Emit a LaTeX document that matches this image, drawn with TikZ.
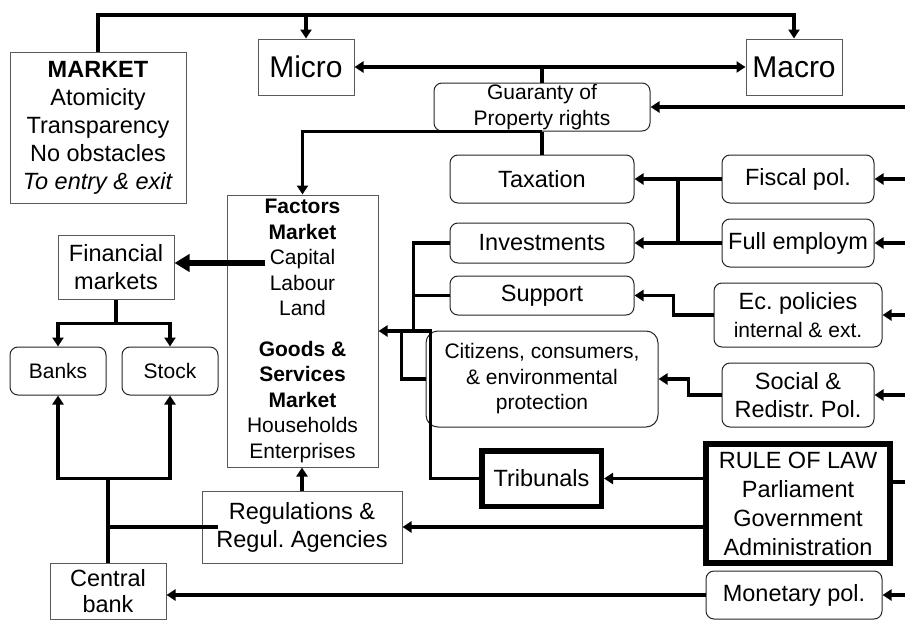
\documentclass[tikz,border=0pt]{standalone}
\usepackage{fontspec}
\setmainfont{Liberation Sans}
\usetikzlibrary{arrows.meta,calc,positioning}
\frenchspacing
\newcommand{\fbig}{\fontsize{30}{34}\selectfont}
\newcommand{\fmid}{\fontsize{23.5}{28}\selectfont}
\newcommand{\fsml}{\fontsize{21}{25.5}\selectfont}

\begin{document}
\begin{tikzpicture}[x=1pt,y=-1pt,
    box/.style={draw=black!65,line width=1pt,fill=white,inner sep=0pt,align=center,font=\fmid},
    rbox/.style={box,draw=black!85,rounded corners=8pt},
    heavy/.style={box,draw=black,line width=5.5pt},
    link/.style={line width=3.5pt},
    arr/.style={link,-{Triangle[length=9pt,width=11pt]}},
    dbl/.style={link,{Triangle[length=9pt,width=11pt]}-{Triangle[length=9pt,width=11pt]}}]
    \useasboundingbox (0,0) rectangle (905,621);

    % Left column
    \node[box,minimum width=176pt,minimum height=151pt,font=\fmid] (market) at (98,127.5)
        {\textbf{MARKET}\\Atomicity\\Transparency\\No obstacles\\\textit{To entry \& exit}};
    \node[box,minimum width=116pt,minimum height=64pt] (financial) at (116,267) {Financial\\markets};
    \node[rbox,minimum width=96pt,minimum height=48pt,font=\fsml] (banks) at (58,371) {Banks};
    \node[rbox,minimum width=96pt,minimum height=48pt,font=\fsml] (stock) at (170,371) {Stock};
    \node[box,minimum width=116pt,minimum height=56pt,font=\fontsize{23.5}{26}\selectfont] (central) at (108,591) {Central\\bank};

    % Middle column
    \node[box,minimum width=96pt,minimum height=56pt,font=\fbig] (micro) at (306,67) {Micro};
    \node[box,minimum width=151pt,minimum height=272pt,font=\fsml] (factors) at (302.5,331)
        {\textbf{Factors}\\\textbf{Market}\\Capital\\Labour\\Land\\[15pt]\textbf{Goods \&}\\\textbf{Services}\\\textbf{Market}\\Households\\Enterprises};
    \node[box,minimum width=200pt,minimum height=72pt] (regul) at (302,527) {Regulations \&\\Regul. Agencies};

    % Instruments
    \node[rbox,minimum width=216pt,minimum height=48pt,font=\fsml] (guar) at (542,107) {Guaranty of\\Property rights};
    \node[rbox,minimum width=184pt,minimum height=48pt] (tax) at (542,179) {Taxation};
    \node[rbox,minimum width=184pt,minimum height=40pt] (invest) at (542,243) {Investments};
    \node[rbox,minimum width=184pt,minimum height=39pt] (support) at (542,295.5) {Support};
    \node[rbox,rounded corners=12pt,minimum width=232pt,minimum height=96pt,font=\fsml] (citizens) at (542,379)
        {Citizens, consumers,\\\& environmental\\protection};
    \node[heavy,minimum width=119.5pt,minimum height=55.5pt] (tribunals) at (541.5,478.5) {Tribunals};

    % Policies
    \node[box,minimum width=96pt,minimum height=56pt,font=\fbig] (macro) at (794,67) {Macro};
    \node[rbox,minimum width=152pt,minimum height=48pt] (fiscal) at (798,179) {Fiscal pol.};
    \node[rbox,minimum width=152pt,minimum height=48pt] (fullemp) at (798,243) {Full employm};
    \node[rbox,minimum width=168pt,minimum height=64pt] (ecpol) at (798,315) {Ec. policies\\{\fsml internal \& ext.}};
    \node[rbox,minimum width=152pt,minimum height=64pt] (social) at (798,395) {Social \&\\Redistr. Pol.};
    \node[heavy,minimum width=184pt,minimum height=119pt,font=\fontsize{23.5}{29}\selectfont] (rule) at (798,503.5)
        {RULE OF LAW\\Parliament\\Government\\Administration};
    \node[rbox,minimum width=176pt,minimum height=48pt] (monetary) at (794,595) {Monetary pol.};

    \coordinate (edge) at (905,0);
    \coordinate (top) at (98,15);
    \coordinate (cap) at (265,263);
    \coordinate (rr) at ($(rule.east)+(0,-21.5)$);

    % Top links
    \draw[arr] (market.north) -- (top) -| (macro.north);
    \draw[arr] (micro.north |- top) -- (micro.north);
    \draw[dbl] (micro) -- (macro);
    \draw[link] (guar.north) -- (guar.north |- micro);
    \draw[link] (guar.south) -- (tax.north);
    \draw[arr] (guar.south) -| (factors.north);

    % Inputs from the right
    \draw[arr] (edge |- guar) -- (guar.east);
    \draw[arr] (edge |- fiscal) -- (fiscal.east);
    \draw[arr] (edge |- fullemp) -- (fullemp.east);
    \draw[arr] (edge |- ecpol) -- (ecpol.east);
    \draw[arr] (edge |- social) -- (social.east);
    \draw[arr] (edge |- monetary) -- (monetary.east);
    \draw[link] (rr) -- (rr -| edge);

    % Policies to instruments
    \draw[arr] (fiscal) -- (tax);
    \draw[arr] (fullemp) -- (invest);
    \draw[link] ($(tax.east)!.5!(fiscal.west)$) -- ($(invest.east)!.5!(fullemp.west)$);
    \draw[arr] (ecpol.west) -- ++(-40,0) |- (support.east);
    \draw[arr] (social.west) -- ++(-33,0) |- (citizens.east);
    \draw[arr] (rule.west |- tribunals) -- (tribunals.east);
    \draw[arr] (rule.west |- regul) -- (regul.east);
    \draw[arr] (monetary.west) -- (monetary.west -| central.east);

    % Instruments to the markets
    \draw[arr] (tribunals.west) -| ($(factors.east)+(52,0)$) -- (factors.east);
    \draw[link] (invest.west) -| ($(factors.east)+(35,0)$);
    \draw[link] (support.west) -- ++(-37,0);
    \draw[link] (citizens.west) -- ++(-24,0) |- ($(factors.east)+(24,0)$);
    \draw[arr] (regul.north) -- (regul.north |- factors.south);

    % Financial side
    \draw[link,line width=5.5pt,-{Triangle[length=15pt,width=17pt]}] (cap) -- (cap -| financial.east);
    \draw[link] (financial.south) -- ++(0,24) coordinate (fs);
    \draw[arr] (fs) -| (banks.north);
    \draw[arr] (fs) -| (stock.north);
    \draw[link] (central.north) -- ++(0,-84) coordinate (cb);
    \draw[arr] (cb) -| (banks.south);
    \draw[arr] (cb) -| (stock.south);
    \draw[link] (central.north |- regul) -- ($(regul.west)+(16,0)$);

\end{tikzpicture}
\end{document}
